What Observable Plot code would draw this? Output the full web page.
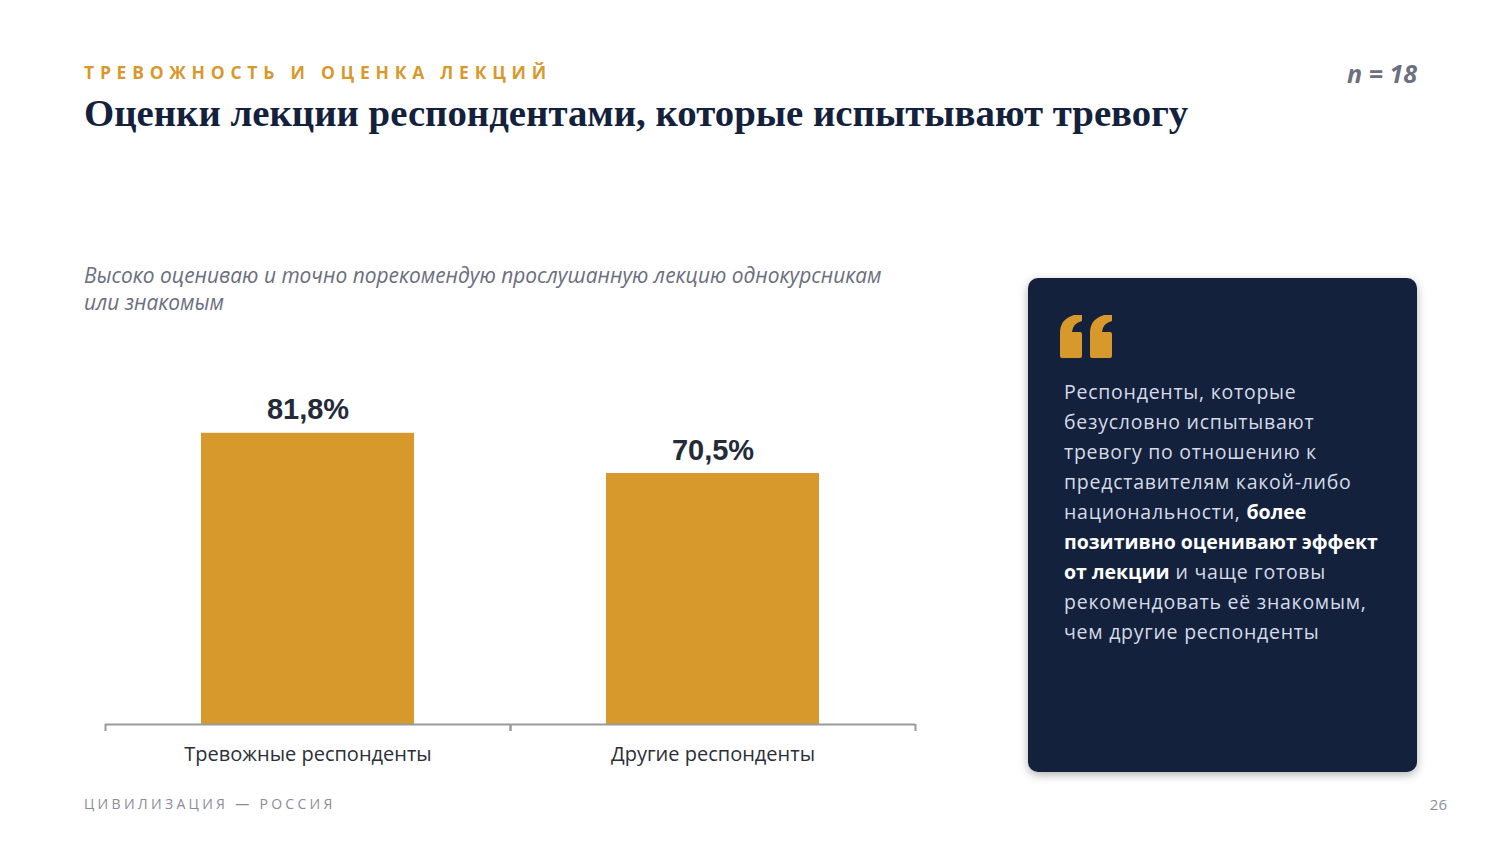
<!DOCTYPE html>
<html><head><meta charset="utf-8">
<script src="https://cdn.jsdelivr.net/npm/d3@7"></script>
<script src="https://cdn.jsdelivr.net/npm/@observablehq/plot@0.6"></script>
<style>
html,body{margin:0;padding:0;background:#fff;width:1500px;height:844px;overflow:hidden;position:relative;font-family:"Open Sans",sans-serif;}
.abs{position:absolute;white-space:nowrap;}
#kicker{left:84px;top:60px;font-size:17.5px;font-weight:700;color:#d8992c;letter-spacing:5.75px;}
#title{left:84px;top:90px;font-family:"Liberation Serif",serif;font-weight:700;font-size:38.8px;color:#13213d;}
#n{right:83px;top:56px;font-size:25px;font-weight:700;font-style:italic;color:#6b7080;}
#sub{left:84px;top:262px;font-size:20.9px;font-style:italic;color:#6b6e7e;line-height:27px;}
#card{left:1028px;top:278px;width:389px;height:494px;background:#13213d;border-radius:10px;box-shadow:0 3px 10px rgba(0,0,0,0.3);}
#quote{left:1060px;top:315px;}
#ctext{left:1064px;top:377px;font-size:19.5px;line-height:30px;color:#d6dbe6;letter-spacing:0.75px;}
#ctext b{color:#fff;font-weight:700;letter-spacing:0;}
#foot{left:84px;top:794px;font-size:14px;color:#8a8d98;letter-spacing:3.3px;}
#page{right:53px;top:794px;font-size:15px;color:#8a8d98;}
#chart{left:103px;top:360px;}
</style></head>
<body>
<div id="kicker" class="abs">ТРЕВОЖНОСТЬ И ОЦЕНКА ЛЕКЦИЙ</div>
<div id="title" class="abs">Оценки лекции респондентами, которые испытывают тревогу</div>
<div id="n" class="abs">n = 18</div>
<div id="sub" class="abs">Высоко оцениваю и точно порекомендую прослушанную лекцию однокурсникам<br>или знакомым</div>
<div id="card" class="abs"></div>
<svg id="quote" class="abs" width="52" height="43" viewBox="0 0 52 43">
  <path fill="#d8992c" d="M2,43 Q0,43 0,41 L0,18 Q0,4 14,0 L22,0 L22,6 Q13,8 12,17 L20,17 Q22,17 22,19 L22,41 Q22,43 20,43 Z"/>
  <path fill="#d8992c" transform="translate(30,0)" d="M2,43 Q0,43 0,41 L0,18 Q0,4 14,0 L22,0 L22,6 Q13,8 12,17 L20,17 Q22,17 22,19 L22,41 Q22,43 20,43 Z"/>
</svg>
<div id="ctext" class="abs">Респонденты, которые<br>безусловно испытывают<br>тревогу по отношению к<br>представителям какой-либо<br>национальности, <b>более</b><br><b>позитивно оценивают эффект</b><br><b>от лекции</b> и чаще готовы<br>рекомендовать её знакомым,<br>чем другие респонденты</div>
<div id="foot" class="abs">ЦИВИЛИЗАЦИЯ — РОССИЯ</div>
<div id="page" class="abs">26</div>
<div id="chart" class="abs"></div>
<script>
const categories = ["Тревожные респонденты", "Другие респонденты"];
const values = [81.8, 70.5];
const labels = ["81,8%", "70,5%"];

const data = categories.map((c, i) => ({cat: c, value: values[i], label: labels[i]}));
const W = 814, H = 400, mL = 2, mR = 2;
const step = (W - mL - mR) / categories.length;

const chart = Plot.plot({
  width: W, height: H,
  marginLeft: mL, marginRight: mR, marginTop: 8, marginBottom: 36,
  style: {background: "transparent", overflow: "visible"},
  x: {domain: categories, paddingInner: 0.474, paddingOuter: 0.237, label: null},
  y: {domain: [0, 100], axis: null},
  marks: [
    Plot.barY(data, {x: "cat", y: "value", fill: "#d8992c"}),
    Plot.ruleY([0], {stroke: "#9a9a9a", strokeWidth: 2}),
    Plot.axisX({tickSize: 7, tickFormat: () => "", dx: -step / 2, stroke: "#9a9a9a", strokeWidth: 2, label: null}),
    Plot.axisX({tickSize: 7, tickFormat: () => "", dx: step / 2, stroke: "#9a9a9a", strokeWidth: 2, label: null}),
    Plot.axisX({tickSize: 0, tickPadding: 22, fontSize: 20, fill: "#2b2f3a", fontFamily: "Open Sans", label: null}),
    Plot.text(data, {x: "cat", y: "value", text: "label", dy: -14, lineAnchor: "bottom",
      fontSize: 29, fontWeight: 700, fontFamily: "Liberation Sans", fill: "#232a38"})
  ]
});
document.getElementById("chart").appendChild(chart);
</script>
</body></html>
